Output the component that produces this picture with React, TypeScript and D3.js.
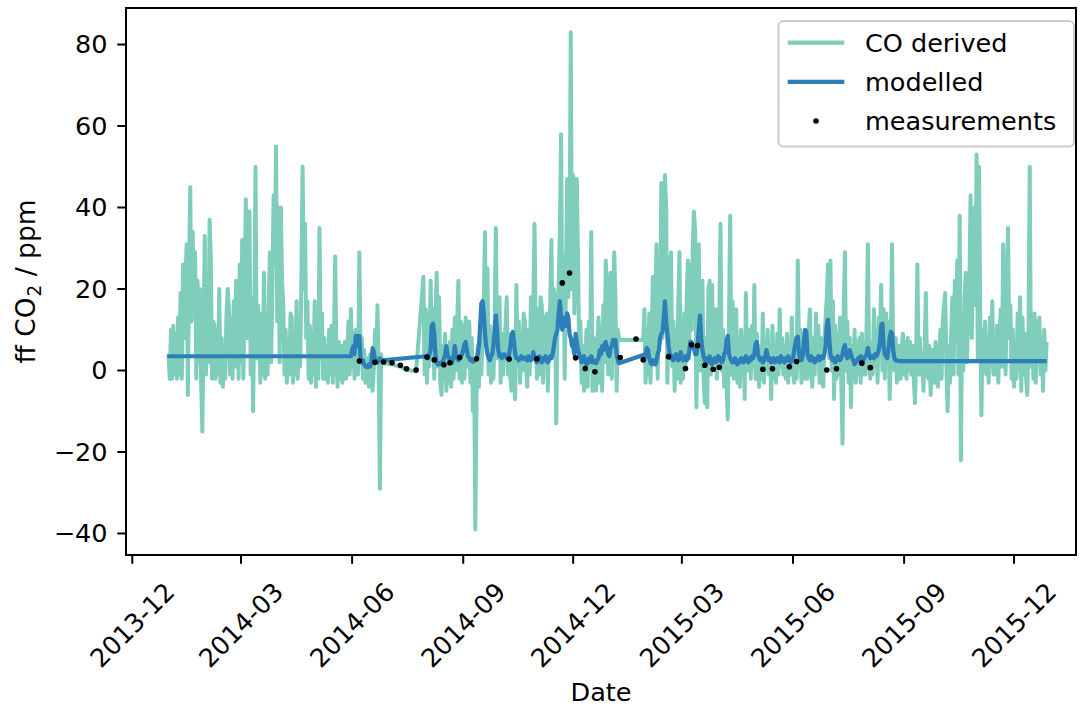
import React, { useEffect, useRef } from "react";
import * as d3 from "d3";

// ---- data ----
const xTickLabels = ["2013-12", "2014-03", "2014-06", "2014-09", "2014-12", "2015-03", "2015-06", "2015-09", "2015-12"];
const yTicks = [-40, -20, 0, 20, 40, 60, 80];

// CO derived ffCO2, daily values, three blocks plus a few sparse points in the summer gap
const coStart = ["2013-12-31", "2014-07-30", "2015-01-28"];
const coBlock1 = [
  4, -2, 10, -2, 11, -1, 9, -2, 13, -1,
  19, -2, 26, 8, 22, 31, -6, 24, 45, 12,
  34, 18, 29, -2, 22, 2, 20, -3, -15, 10,
  33, -1, 16, 2, 37, 28, -2, 12, 11, -2,
  10, -1, 20, -3, 8, -4, 6, -2, 14, 20,
  15, -1, 13, -2, 17, 1, 22, 21, -2, 26,
  2, 32, -2, 20, 42, 8, 28, 39, -1, 18,
  -10, 12, 50, 3, 16, 10, -3, 14, -1, 24,
  -2, 9, -1, 18, 29, 2, 21, 43, 26, 55,
  12, 40, 2, 40, 22, 16, -1, 10, -3, 7,
  -1, 14, 13, -3, 9, -1, 17, -2, 12, 1,
  23, 50, 20, 36, 8, 17, -2, 11, -3, 9,
  -1, 17, -4, 12, -2, 35, 3, 14, -2, 8,
  -2, 6, -3, 10, -1, 11, -3, 9, 28, 2,
  -4, 7, -2, 6, -3, 5, 7, -2, 4, 12,
  -1, 15, 1, 9, -2, 10, 2, -1, 29, 3,
  8, -2, 5, -3, 3, -1, -4, 4, -3, -5,
  1, 10, 3, 16, -1, -29, 4, 2,
];
const coGapDates = ["2014-06-27", "2014-07-04", "2014-07-11", "2014-07-16", "2014-07-24"];
const coGapValues = [1.8, 1.5, 0.9, 0.2, -0.2];
const coBlock2 = [
  23, -1, 15, -3, 14, 1, 22, 3, 15, -2,
  12, 24, 1, 18, -3, -6, 6, -2, 9, -5,
  2, -3, 7, -4, 10, -2, 13, 0, 12, 22,
  -2, 12, -3, 11, -2, 13, 1, 9, 12, -3,
  8, -10, 2, -39, -6, 6, -4, 11, -1, 9,
  16, 34, 8, 25, -1, 11, -3, 8, -2, 12,
  35, 3, 14, 18, -3, 9, -1, 6, 11, 18,
  -1, 9, -2, -5, 6, -2, -7, 21, 1, 12,
  -3, 9, 0, 14, 12, 1, -4, 10, -1, 18,
  3, 15, 36, 10, -2, 15, -1, 18, 16, -3,
  13, 2, 14, -5, 9, 16, 32, 4, 20, 16,
  -13, 10, 22, 34, 58, 12, 28, -2, 20, 47,
  18, 30, 83, 20, 48, 14, 36, 47, 28, 4,
  12, -3, 6, -5, 0, 10, -4, 12, 1, 34,
  -5, 8, -2, -5, 6, 13, -3, 11, -5, 16,
  2, 27, 20, -1, 16, 24, -2, 14, 29, 18,
  -5, 10, 7.5,
];
const coBlock3 = [
  7.5, 15, -3, 10, -1, 14, -3, 8, 23, 2,
  18, 31, -2, 20, 12, 46, 8, 22, 48, 40,
  -3, 14, 25, 29, 1, 12, -5, 10, -2, 16,
  29, -3, 8, -2, 14, 1, 18, 27, 3, 26,
  10, 30, 39, 34, -9, 12, 31, 0, 16, 22,
  -2, -8, 8, -9, 20, 22, -1, 21, 2, 14,
  15, -2, 9, 14, 36, 0, 10, -4, 6, -3,
  -12, 12, 38, -1, 17, -2, 12, 15, -3, 8,
  -4, 10, -1, 7, -7, 19, 0, 9, 10, -2,
  11, 1, 21, -2, 9, 0, -4, 6, -2, 14,
  -3, 7, 0, 10, -1, 5, -7, 11, -2, 6,
  -3, 9, -1, 15, 1, 8, -1, 6, -2, 9,
  -3, 7, -1, 13, 0, -3, 8, -2, 27, 1,
  10, -3, 6, 9, -2, 7, -2, 10, 15, 0,
  -4, 8, -1, 14, 2, 11, -3, 8, -1, -4,
  7, 13, 18, 26, 3, 27, 0, 17, -7, 11,
  -2, 9, -1, 13, -3, -18, 15, 29, 0, 12,
  -3, 8, -9, 6, -2, 10, -3, 7, -1, 8,
  -3, 9, -1, 6, -1, 12, 31, 2, -2, 7,
  -1, 15, 1, 10, -3, 13, 8, 21, 0, 15,
  -2, 14, 2, 12, -7, 4, 31, 3, 0, 8,
  -3, 1, 6, -2, 5, 9, -1, 7, -2, 8,
  0, 7, -1, 6, -2, -8, 5, 26, -1, 8,
  -1, 4, -5, 6, 19, 0, -2, 6, -6, 5,
  -1, -3, 7, -2, -4, 3, 10, -2, 12, 16,
  19, 1, -10, 6, -3, 9, 18, -1, 22, 10,
  27, -1, 38, -22, 12, 0, 18, 24, 2, 14,
  20, 43, 8, 30, 40, 16, 53, 3, 50, 14,
  -11, 10, 0, 12, -1, 7, -3, 13, 1, 17,
  -1, 8, -1, 11, -3, 9, 15, 1, 31, 12,
  -1, 18, 35, 8, 16, -2, 10, -4, 6, -2,
  14, 0, 18, -5, 13, -1, 9, -2, -6, 10,
  50, 1, 12, -2, 14, -3, 12, 3, 13, -1,
  8, -5, 10, 0, 7,
];

// modelled ffCO2: constant outside the model period, daily inside it
const modelledEnds = [["2013-12-30", 3.5], ["2015-12-28", 2.3]] as const;
const modelledStart = ["2014-05-30", "2014-08-01", "2015-01-28"];
const modelled1 = [
  3.5, 3.5, 5, 6, 4, 8.5, 8.5, 6, 8.5, 3,
  2, 2.5, 1.5, 1, 0.8, 0.8, 1.5, 1, 2, 5.5,
  4.5, 2.5, 2.5, 2, 2.5, 3, 2.5, 2.5,
];
const modelled2 = [
  3.5, 3.4, 3, 4, 5, 11, 11.5, 9, 4, 2,
  1.5, 1.8, 1.5, 2, 1.8, 3, 4, 6, 4, 3,
  2.5, 3, 2, 3.5, 6, 4, 3, 2.5, 3, 3.5,
  4, 5, 6.5, 7, 5, 3.5, 3, 2.5, 2.8, 2.2,
  2.5, 2.5, 2.8, 4, 6, 11, 16.5, 17, 14, 9,
  6, 4, 3, 2.5, 3.5, 4, 6, 10, 13.5, 10,
  5, 3.5, 4, 3, 3.5, 4, 3.5, 3, 3, 4,
  6, 8.5, 9.5, 7, 4, 3, 3, 2.5, 3, 3.5,
  3, 2.8, 3.2, 3, 2.5, 3.5, 3, 2.5, 3, 4.5,
  3.5, 2.5, 2, 3, 3.5, 2.5, 2, 3, 2.5, 3.5,
  3, 2, 2.5, 3.5, 3, 4, 6, 8, 9, 10,
  14, 17, 13, 10, 12, 13, 11, 14, 13, 9,
  8, 6, 6, 4, 9, 7, 5, 4, 3, 2,
  3, 3.5, 2.5, 1.5, 1.8, 3, 2.2, 3.5, 2, 2.5,
  2, 1.8, 2.5, 3, 5, 4, 6, 5, 6.5, 7,
  5.5, 4, 3.5, 5.5, 6, 7.5, 6.5, 7.5, 4, 2.5,
  1.8,
];
const modelled3 = [
  3.8, 3, 4, 5.5, 5, 3, 2, 1.5, 2.5, 2,
  1.5, 2.5, 4, 5, 8, 9, 9.5, 13, 17, 12,
  9, 6, 4, 3, 3.5, 2.5, 3, 4, 3.5, 2.5,
  3, 4.5, 3, 2.5, 3, 3.5, 2.5, 3, 4.5, 7,
  7, 5.5, 5.5, 4, 4, 6, 10, 13.5, 8, 5,
  3.5, 2.5, 3, 2, 2.5, 3.5, 2, 1.5, 2.5, 3,
  2, 2.5, 3.5, 2.5, 3, 2, 2.5, 4, 4.5, 7.5,
  8.5, 4, 3, 2.5, 2, 2.5, 3, 2, 1.5, 2.5,
  2, 3, 2.5, 2, 3, 3.5, 2.5, 2, 3, 2.5,
  3.5, 3, 4, 6.5, 7, 4, 3, 2.5, 3, 2,
  2.5, 3.5, 5, 3.5, 2.5, 3, 2, 2.5, 3, 2,
  2.5, 3, 2.5, 2, 3.5, 3, 2.5, 2, 3, 2.5,
  3.5, 3, 2, 2.5, 3, 5, 6.5, 8, 8.3, 4,
  3, 2.5, 3.5, 7, 10, 9.5, 4, 3, 2.5, 3.5,
  2.5, 3, 2, 2.5, 3, 3.5, 2.5, 3, 3.5, 3,
  4, 6, 11, 12.5, 8, 4, 3, 2.5, 3, 2,
  2.5, 3.5, 3, 2.5, 3, 4, 5.5, 6.2, 4, 3,
  3.5, 5, 4, 3, 2.5, 1.5, 2, 2.5, 3, 2.5,
  3.5, 3, 2.5, 3, 3.5, 4, 5.5, 4, 3, 3.5,
  3.5, 3, 4, 3.5, 4, 5, 7, 11, 11.5, 6,
  4, 3.5, 3, 5, 8, 9.5, 9, 5, 3, 2.5,
  2.5, 2.3, 2.3,
];

// flask measurements
const measDates = [
  "2014-06-07", "2014-06-20", "2014-06-27", "2014-07-04", "2014-07-11", "2014-07-16", "2014-07-24",
  "2014-08-02", "2014-08-08", "2014-08-16", "2014-08-21", "2014-08-29", "2014-09-12", "2014-10-09",
  "2014-11-01", "2014-11-22", "2014-11-28", "2014-12-03", "2014-12-11", "2014-12-19",
  "2015-01-09", "2015-01-22", "2015-01-28", "2015-02-18", "2015-03-04", "2015-03-09", "2015-03-14",
  "2015-03-20", "2015-03-27", "2015-04-01", "2015-05-07", "2015-05-15", "2015-05-29", "2015-06-04",
  "2015-06-29", "2015-07-07", "2015-07-28", "2015-08-04",
];
const measValues = [
  2.3, 2.0, 2.1, 1.9, 1.3, 0.4, 0.1,
  3.3, 2.6, 1.4, 1.9, 3.2, 2.9, 2.8,
  2.9, 21.5, 23.9, 3.1, 0.5, -0.3,
  3.2, 7.7, 2.6, 3.4, 0.5, 6.3, 6.1,
  1.3, 0.3, 0.8, 0.3, 0.4, 0.9, 2.2,
  0.1, 0.4, 1.8, 0.7,
];

const GREEN = "#7fcdbb";
const BLUE = "#2c7fb8";
const FONT = "DejaVu Sans";
const FS = 25.5;

type Pt = { date: Date; value: number };
const parse = d3.utcParse("%Y-%m-%d");

function daily(start: string, values: number[]): Pt[] {
  const t0 = parse(start)!;
  return values.map((v, i) => ({ date: d3.utcDay.offset(t0, i), value: v }));
}

function App() {
  const svgRef = useRef<SVGSVGElement>(null);

  useEffect(() => {
    const svg = d3.select(svgRef.current);
    svg.selectAll("*").remove();

    const left = 126, right = 1076, top = 8, bottom = 555;
    const origin = Date.UTC(2013, 11, 1);
    const day = 864e5;

    const x = d3.scaleUtc()
      .domain([new Date(origin - 5.2 * day), new Date(origin + 781.3 * day)])
      .range([left, right]);
    const y = d3.scaleLinear().domain([-45.28, 88.96]).range([bottom, top]);

    const coPts: Pt[] = [
      ...daily(coStart[0], coBlock1),
      ...coGapDates.map((d, i) => ({ date: parse(d)!, value: coGapValues[i] })),
      ...daily(coStart[1], coBlock2),
      ...daily(coStart[2], coBlock3),
    ];
    const modPts: Pt[] = [
      { date: parse(modelledEnds[0][0])!, value: modelledEnds[0][1] },
      ...daily(modelledStart[0], modelled1),
      ...daily(modelledStart[1], modelled2),
      ...daily(modelledStart[2], modelled3),
      { date: parse(modelledEnds[1][0])!, value: modelledEnds[1][1] },
    ];

    const line = d3.line<Pt>().x(d => x(d.date)).y(d => y(d.value));

    const plot = svg.append("g");
    plot.append("path")
      .datum(coPts)
      .attr("d", line)
      .attr("fill", "none")
      .attr("stroke", GREEN)
      .attr("stroke-width", 4)
      .attr("stroke-linejoin", "round");
    plot.append("path")
      .datum(modPts)
      .attr("d", line)
      .attr("fill", "none")
      .attr("stroke", BLUE)
      .attr("stroke-width", 4.2)
      .attr("stroke-linejoin", "round");
    plot.selectAll("circle.meas")
      .data(measDates.map((d, i) => ({ date: parse(d)!, value: measValues[i] })))
      .join("circle")
      .attr("class", "meas")
      .attr("cx", d => x(d.date))
      .attr("cy", d => y(d.value))
      .attr("r", 2.8)
      .attr("fill", "#000");

    // frame
    svg.append("rect")
      .attr("x", left).attr("y", top)
      .attr("width", right - left).attr("height", bottom - top)
      .attr("fill", "none").attr("stroke", "#000").attr("stroke-width", 2);

    // y axis
    const yg = svg.append("g").attr("font-family", FONT).attr("font-size", FS);
    yTicks.forEach(t => {
      yg.append("line")
        .attr("x1", left - 8.75).attr("x2", left)
        .attr("y1", y(t)).attr("y2", y(t))
        .attr("stroke", "#000").attr("stroke-width", 2);
      yg.append("text")
        .attr("x", left - 18.5).attr("y", y(t)).attr("dy", "0.35em")
        .attr("text-anchor", "end")
        .text(String(t).replace("-", "\u2212"));
    });

    // x axis
    const xg = svg.append("g").attr("font-family", FONT).attr("font-size", FS);
    xTickLabels.forEach(lbl => {
      const tx = x(d3.utcParse("%Y-%m")(lbl)!);
      xg.append("line")
        .attr("x1", tx).attr("x2", tx)
        .attr("y1", bottom).attr("y2", bottom + 8.75)
        .attr("stroke", "#000").attr("stroke-width", 2);
      xg.append("text")
        .attr("transform", `translate(${tx},625) rotate(-45)`)
        .attr("text-anchor", "middle").attr("dy", "0.35em")
        .text(lbl);
    });

    svg.append("text")
      .attr("x", (left + right) / 2).attr("y", 701)
      .attr("text-anchor", "middle")
      .attr("font-family", FONT).attr("font-size", FS)
      .text("Date");

    const yl = svg.append("text")
      .attr("transform", `translate(35,${(top + bottom) / 2}) rotate(-90)`)
      .attr("text-anchor", "middle")
      .attr("font-family", FONT).attr("font-size", 26.5);
    yl.append("tspan").text("ff CO");
    yl.append("tspan").attr("font-size", 26.5 * 0.7).attr("dy", 6).attr("dx", 1).text("2");
    yl.append("tspan").attr("dy", -6).text(" / ppm");

    // legend
    const lg = svg.append("g").attr("font-family", FONT).attr("font-size", FS);
    lg.append("rect")
      .attr("x", 778.5).attr("y", 21).attr("width", 295.5).attr("height", 125.5)
      .attr("rx", 5).attr("fill", "#fff").attr("fill-opacity", 0.8)
      .attr("stroke", "#cccccc").attr("stroke-width", 2);
    const items = [
      { label: "CO derived", color: GREEN, kind: "line", cy: 42.7 },
      { label: "modelled", color: BLUE, kind: "line", cy: 81.8 },
      { label: "measurements", color: "#000", kind: "dot", cy: 121 },
    ];
    items.forEach(it => {
      if (it.kind === "line") {
        lg.append("line")
          .attr("x1", 787.7).attr("x2", 844.3).attr("y1", it.cy).attr("y2", it.cy)
          .attr("stroke", it.color).attr("stroke-width", 4.2);
      } else {
        lg.append("circle").attr("cx", 816).attr("cy", it.cy).attr("r", 2.8).attr("fill", it.color);
      }
      lg.append("text").attr("x", 865).attr("y", it.cy).attr("dy", "0.35em").text(it.label);
    });
  }, []);

  return (
    <div style={{ position: "absolute", left: 0, top: 0 }}>
      <svg ref={svgRef} width={1080} height={710} style={{ display: "block", background: "#fff" }} />
    </div>
  );
}

export default App;
